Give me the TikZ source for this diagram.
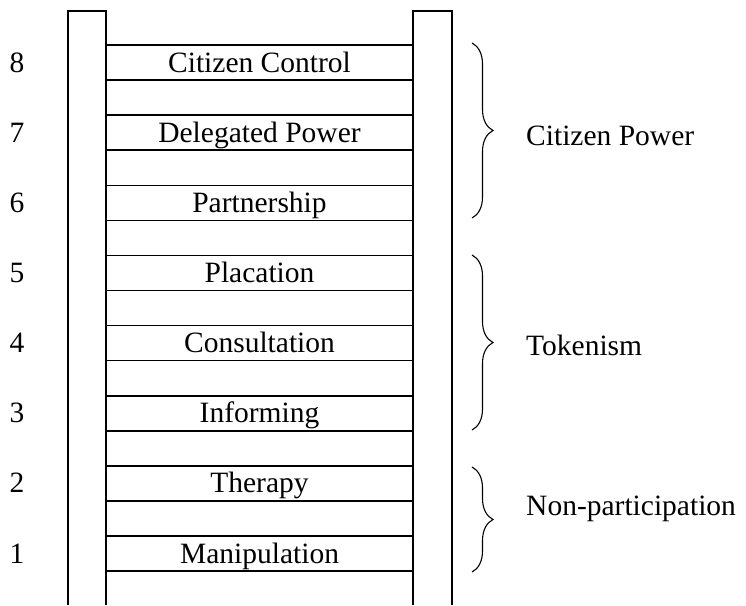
\documentclass[tikz,border=0pt]{standalone}
\usepackage{fontspec}
\setmainfont{Liberation Serif}
\usetikzlibrary{decorations.pathreplacing}
\tikzset{
  laddertext/.style = {inner sep=0pt, text height=22pt, text depth=3pt,
    font=\fontsize{29.5}{33}\selectfont},
  rung/.style = {laddertext, rectangle, draw=black, line width=1.5pt,
    minimum width=307pt, minimum height=35pt},% echelon
  rungno/.style = {laddertext},% numero d'echelon
  rail/.style = {line width=1.5pt},% montant
  bracket/.style = {decorate, decoration={brace, amplitude=21pt},
    line width=1.1pt},
  grouplab/.style = {inner sep=0pt, anchor=base west,
    font=\fontsize{29.5}{33}\selectfont}
}

\begin{document}
\begin{tikzpicture}[x=1pt,y=-1pt]
\useasboundingbox (0,0) rectangle (746,605);
% montants
\draw[rail] (68,605) -- (68,11) -- (106,11) -- (106,605);
\draw[rail] (413,605) -- (413,11) -- (452,11) -- (452,605);
% echelons
\foreach \k/\txt in {8/Citizen Control, 7/Delegated Power, 6/Partnership,
  5/Placation, 4/Consultation, 3/Informing, 2/Therapy, 1/Manipulation}{
  \node [rung] (rung\k) at (259.5, {62.5+(8-\k)*70.15}) {\txt};
  \node [rungno] (no\k) at (17, {62.5+(8-\k)*70.15}) {\k};
}
% accolades
\coordinate (powerT) at (472,43);
\coordinate (powerB) at (472,218);
\coordinate (tokenT) at (472,255);
\coordinate (tokenB) at (472,430);
\coordinate (nonT) at (472,467);
\coordinate (nonB) at (472,572);
\draw[bracket] (powerT) -- (powerB);
\draw[bracket] (tokenT) -- (tokenB);
\draw[bracket] (nonT) -- (nonB);
\node [grouplab] (power) at (526,145) {Citizen Power};
\node [grouplab] (token) at (526,355) {Tokenism};
\node [grouplab] (non) at (526,515) {Non-participation};
\end{tikzpicture}
\end{document}
